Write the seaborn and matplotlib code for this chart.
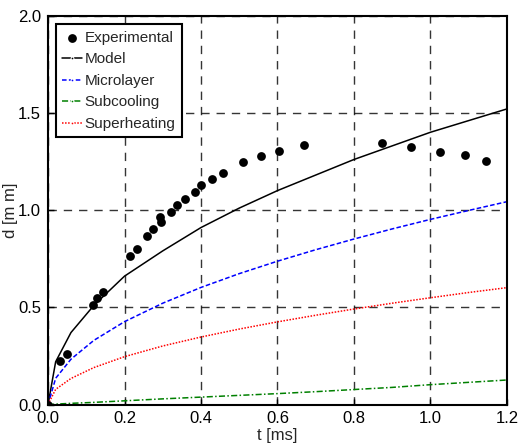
import numpy as np
import pandas as pd
import matplotlib
matplotlib.use("Agg")
import matplotlib.pyplot as plt
import seaborn as sns

# Experimental points
t_exp = [0.0, 0.031, 0.049, 0.117, 0.127, 0.143, 0.214, 0.233, 0.258, 0.275,
         0.293, 0.295, 0.321, 0.338, 0.357, 0.384, 0.401, 0.430, 0.457, 0.511,
         0.558, 0.603, 0.669, 0.874, 0.949, 1.025, 1.090, 1.146]
d_exp = [0.0, 0.224, 0.258, 0.510, 0.546, 0.580, 0.764, 0.798, 0.867, 0.901,
         0.966, 0.939, 0.990, 1.025, 1.059, 1.095, 1.127, 1.158, 1.189, 1.246,
         1.278, 1.304, 1.333, 1.344, 1.326, 1.301, 1.282, 1.251]

# Curves read at these times
t_curve = [0.0, 0.02, 0.06, 0.12, 0.2, 0.3, 0.4, 0.5, 0.6, 0.7, 0.8, 0.9, 1.0, 1.1, 1.2]
d_model = [0.0, 0.22, 0.37, 0.51, 0.66, 0.79, 0.91, 1.01, 1.10, 1.18, 1.26, 1.33, 1.40, 1.46, 1.52]
d_micro = [0.0, 0.135, 0.233, 0.33, 0.426, 0.521, 0.602, 0.673, 0.737, 0.796, 0.851, 0.903, 0.952, 0.998, 1.043]
d_subcool = [0.0, 0.002, 0.006, 0.011, 0.019, 0.029, 0.038, 0.047, 0.056, 0.066, 0.077, 0.088, 0.102, 0.114, 0.126]
d_superheat = [0.0, 0.078, 0.134, 0.19, 0.246, 0.301, 0.347, 0.388, 0.425, 0.459, 0.491, 0.521, 0.549, 0.576, 0.601]

x_ticks = [0.0, 0.2, 0.4, 0.6, 0.8, 1.0, 1.2]
y_ticks = [0.0, 0.5, 1.0, 1.5, 2.0]

sns.set_style("white")
plt.rcParams['font.family'] = ['Liberation Sans Narrow', 'Liberation Sans', 'DejaVu Sans']

fig = plt.figure(figsize=(5.18, 4.45), dpi=100)
ax = fig.add_axes([0.0927, 0.091, 0.886, 0.874])

df_exp = pd.DataFrame({'t': t_exp, 'd': d_exp})
df_curve = pd.DataFrame({'t': t_curve, 'model': d_model, 'micro': d_micro,
                         'subcool': d_subcool, 'superheat': d_superheat})

sns.scatterplot(data=df_exp, x='t', y='d', ax=ax, color='black', s=40,
                edgecolor='black', linewidth=0, label='Experimental', zorder=5)

curves = [('model', 'black', '-', 'Model'),
          ('micro', 'blue', (0, (3, 1.5)), 'Microlayer'),
          ('subcool', 'green', (0, (4, 1.5, 1, 1.5)), 'Subcooling'),
          ('superheat', 'red', (0, (1, 1)), 'Superheating')]
for col, c, ls, lab in curves:
    sns.lineplot(data=df_curve, x='t', y=col, ax=ax, color=c, lw=1.1,
                 linestyle=ls, label=lab)

ax.set_xlim(0, 1.2)
ax.set_ylim(0, 2.0)
ax.set_xticks(x_ticks)
ax.set_yticks(y_ticks)
ax.set_xticklabels([f"{v:.1f}" for v in x_ticks])
ax.set_yticklabels([f"{v:.1f}" for v in y_ticks])
ax.tick_params(direction='in', length=4, width=1, labelsize=12, pad=5,
               bottom=True, left=True, colors='black')
ax.grid(True, color='#111111', linestyle=(0, (6, 5)), linewidth=1, alpha=0.85)
for s in ax.spines.values():
    s.set_color('black')
    s.set_linewidth(1.5)

ax.set_xlabel('t [ms]', fontsize=12, labelpad=1)
ax.set_ylabel('d [m m]', fontsize=12, labelpad=0)

leg = ax.legend(loc='upper left', bbox_to_anchor=(0.01, 0.985), fontsize=11,
                frameon=True, fancybox=False, framealpha=1, edgecolor='black',
                handlelength=1.3, handletextpad=0.2, borderpad=0.4,
                labelspacing=0.5, borderaxespad=0.2)
leg.get_frame().set_linewidth(1.5)
# small dot in the middle of each line handle, as in the original legend
for h in leg.legend_handles[1:]:
    h.set_marker('.')
    h.set_markersize(4)
    h.set_markevery([1])

fig.savefig('out.png', dpi=100)
